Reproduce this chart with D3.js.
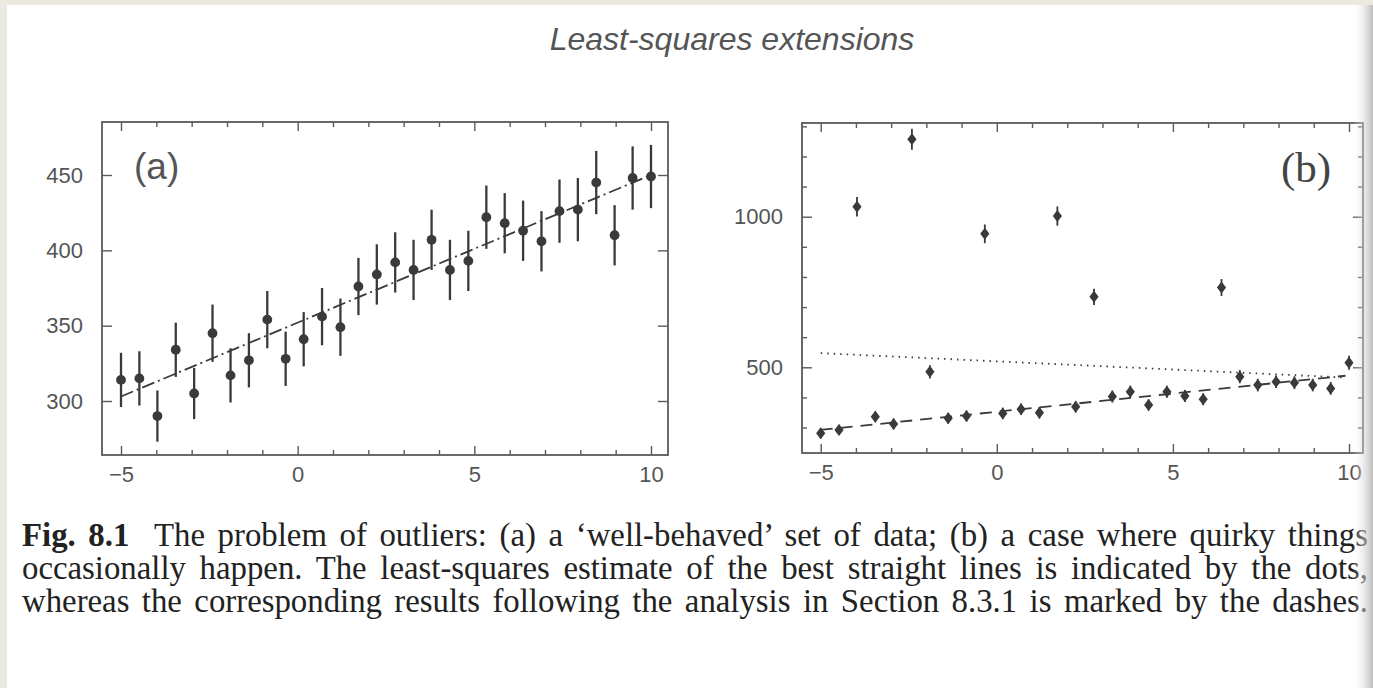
<!DOCTYPE html>
<html>
<head>
<meta charset="utf-8">
<style>
  body { margin: 0; background: #ece9df; }
  svg { display: block; }
</style>
</head>
<body>
<div class="start"></div>
<script src="https://cdn.jsdelivr.net/npm/d3@7/dist/d3.min.js"></script>
<script>
// x positions of the 30 measurements (same for both panels)
var xs = [-5, -4.48, -3.97, -3.45, -2.93, -2.41, -1.90, -1.38, -0.86, -0.34,
          0.17, 0.69, 1.21, 1.72, 2.24, 2.76, 3.28, 3.79, 4.31, 4.83,
          5.34, 5.86, 6.38, 6.90, 7.41, 7.93, 8.45, 8.97, 9.48, 10];

// panel (a): well-behaved data with error bars
var seriesA = [314, 315, 290, 334, 305, 345, 317, 327, 354, 328,
               341, 356, 349, 376, 384, 392, 387, 407, 387, 393,
               422, 418, 413, 406, 426, 427, 445, 410, 448, 449];
var errA = [18, 18, 17, 18, 17, 19, 18, 18, 19, 18,
            18, 19, 19, 19, 20, 20, 20, 20, 20, 20,
            21, 20, 20, 20, 21, 21, 21, 20, 21, 21];

// panel (b): data with outliers
var seriesB = [281, 292, 1033, 336, 312, 1257, 485, 331, 338, 943,
               347, 361, 349, 1002, 369, 734, 403, 419, 375, 419,
               405, 394, 765, 469, 441, 452, 449, 441, 430, 515];
var errB = [17, 17, 32, 18, 18, 35, 22, 18, 18, 31,
            19, 19, 19, 32, 19, 27, 20, 20, 19, 20,
            20, 20, 28, 22, 21, 21, 21, 21, 21, 23];

// fitted straight lines (end points)
var fitAx = [-5, 10],   fitAy = [303, 450];
var robustBx = [-5, 9.9], robustBy = [292, 472];
var lsqBx = [-5, 9.9],  lsqBy = [547, 466];

// ticks
var xTicks = [-5, 0, 5, 10];
var xMinor = [-4, -3, -2, -1, 1, 2, 3, 4, 6, 7, 8, 9];
var yTicksA = [300, 350, 400, 450];
var yTicksB = [500, 1000];
var yMinorB = [300, 400, 600, 700, 800, 900, 1100, 1200, 1300];

var ink = '#3a3a3a', frameCol = '#5a5a5a', labelCol = '#555';

var svg = d3.select('.start')
  .append('svg')
  .attr('width', 1373)
  .attr('height', 688);

// page
svg.append('rect').attr('x', 7).attr('y', 5).attr('width', 1366).attr('height', 683).attr('fill', '#fff');

svg.append('text')
  .attr('x', 732).attr('y', 50)
  .attr('text-anchor', 'middle')
  .attr('font-family', 'Liberation Sans, sans-serif')
  .attr('font-style', 'italic')
  .attr('font-size', 32)
  .attr('fill', '#555')
  .text('Least-squares extensions');

function panel(opt) {
  var g = svg.append('g');
  var x = d3.scaleLinear().domain([-5, 10]).range(opt.xr);
  var y = d3.scaleLinear().domain(opt.yd).range(opt.yr);
  var L = opt.frame[0], T = opt.frame[1], R = opt.frame[2], B = opt.frame[3];

  function style(a) {
    a.select('.domain').remove();
    a.selectAll('line').attr('stroke', frameCol).attr('stroke-width', 1.4);
    a.selectAll('text').attr('fill', labelCol)
      .attr('font-family', 'Liberation Sans, Arial, sans-serif').attr('font-size', 22);
  }

  g.append('g').attr('transform', 'translate(0,' + B + ')')
    .call(d3.axisBottom(x).tickValues(xTicks).tickSize(-9).tickPadding(11)).call(style);
  g.append('g').attr('transform', 'translate(0,' + B + ')')
    .call(d3.axisBottom(x).tickValues(xMinor).tickSize(-5).tickFormat('')).call(style);
  g.append('g').attr('transform', 'translate(0,' + T + ')')
    .call(d3.axisTop(x).tickValues(xTicks).tickSize(-9).tickFormat('')).call(style);
  g.append('g').attr('transform', 'translate(0,' + T + ')')
    .call(d3.axisTop(x).tickValues(xMinor).tickSize(-5).tickFormat('')).call(style);

  g.append('g').attr('transform', 'translate(' + L + ',0)')
    .call(d3.axisLeft(y).tickValues(opt.yTicks).tickSize(-10).tickPadding(opt.yPad).tickFormat(d3.format('d'))).call(style);
  g.append('g').attr('transform', 'translate(' + R + ',0)')
    .call(d3.axisRight(y).tickValues(opt.yTicks).tickSize(-10).tickFormat('')).call(style);
  if (opt.yMinor) {
    g.append('g').attr('transform', 'translate(' + L + ',0)')
      .call(d3.axisLeft(y).tickValues(opt.yMinor).tickSize(-5).tickFormat('')).call(style);
    g.append('g').attr('transform', 'translate(' + R + ',0)')
      .call(d3.axisRight(y).tickValues(opt.yMinor).tickSize(-5).tickFormat('')).call(style);
  }

  g.append('rect')
    .attr('x', L).attr('y', T).attr('width', R - L).attr('height', B - T)
    .attr('fill', 'none').attr('stroke', frameCol).attr('stroke-width', 1.8);

  return { g: g, x: x, y: y };
}

// ---- panel (a)
var pa = panel({ xr: [121, 651], yd: [300, 450], yr: [401, 175], frame: [102, 122, 668, 455],
                 yTicks: yTicksA, yPad: 19 });

var lineA = d3.line().x(function(d) { return pa.x(d[0]); }).y(function(d) { return pa.y(d[1]); });
pa.g.append('path')
  .attr('d', lineA(d3.zip(fitAx, fitAy)))
  .attr('fill', 'none').attr('stroke', ink).attr('stroke-width', 1.8)
  .attr('stroke-dasharray', '13,4,2,4');

pa.g.selectAll('.errA').data(seriesA).enter().append('line')
  .attr('x1', function(d, i) { return pa.x(xs[i]); })
  .attr('x2', function(d, i) { return pa.x(xs[i]); })
  .attr('y1', function(d, i) { return pa.y(d - errA[i]); })
  .attr('y2', function(d, i) { return pa.y(d + errA[i]); })
  .attr('stroke', ink).attr('stroke-width', 2.3);

pa.g.selectAll('.ptA').data(seriesA).enter().append('circle')
  .attr('cx', function(d, i) { return pa.x(xs[i]); })
  .attr('cy', function(d) { return pa.y(d); })
  .attr('r', 4.9).attr('fill', ink);

pa.g.append('text').attr('x', 134).attr('y', 179)
  .attr('font-family', 'Liberation Sans, sans-serif').attr('font-size', 37)
  .attr('fill', '#555').text('(a)');

// ---- panel (b)
var pb = panel({ xr: [820.7, 1349], yd: [500, 1000], yr: [367.3, 216.7], frame: [802, 123, 1363, 453],
                 yTicks: yTicksB, yMinor: yMinorB, yPad: 19 });

var lineB = d3.line().x(function(d) { return pb.x(d[0]); }).y(function(d) { return pb.y(d[1]); });
pb.g.append('path')
  .attr('d', lineB(d3.zip(lsqBx, lsqBy)))
  .attr('fill', 'none').attr('stroke', ink).attr('stroke-width', 1.8)
  .attr('stroke-dasharray', '1.5,5');
pb.g.append('path')
  .attr('d', lineB(d3.zip(robustBx, robustBy)))
  .attr('fill', 'none').attr('stroke', ink).attr('stroke-width', 1.8)
  .attr('stroke-dasharray', '12,8');

pb.g.selectAll('.errB').data(seriesB).enter().append('line')
  .attr('x1', function(d, i) { return pb.x(xs[i]); })
  .attr('x2', function(d, i) { return pb.x(xs[i]); })
  .attr('y1', function(d, i) { return pb.y(d - errB[i]); })
  .attr('y2', function(d, i) { return pb.y(d + errB[i]); })
  .attr('stroke', ink).attr('stroke-width', 1.8);

pb.g.selectAll('.ptB').data(seriesB).enter().append('path')
  .attr('transform', function(d, i) { return 'translate(' + pb.x(xs[i]) + ',' + pb.y(d) + ')'; })
  .attr('d', 'M0,-6L4.6,0L0,6L-4.6,0Z')
  .attr('fill', ink);

pb.g.append('text').attr('x', 1281).attr('y', 182)
  .attr('font-family', 'Liberation Serif, serif').attr('font-size', 43)
  .attr('fill', '#444').text('(b)');

// ---- caption (justified lines)
var capLines = [
  [['Fig. 8.1', true], ['  The problem of outliers: (a) a \u2018well-behaved\u2019 set of data; (b) a case where quirky things', false]],
  [['occasionally happen. The least-squares estimate of the best straight lines is indicated by the dots,', false]],
  [['whereas the corresponding results following the analysis in Section 8.3.1 is marked by the dashes.', false]]
];
var capWidth = 1346;
var cap = svg.append('g')
  .attr('font-family', 'Liberation Serif, Times New Roman, serif')
  .attr('font-size', 32.8).attr('fill', '#222');
capLines.forEach(function(parts, k) {
  var t = cap.append('text').attr('x', 22).attr('y', 546 + k * 33).attr('xml:space', 'preserve');
  var spaces = 0;
  parts.forEach(function(p) {
    t.append('tspan').attr('font-weight', p[1] ? 'bold' : 'normal').text(p[0]);
    spaces += (p[0].match(/ /g) || []).length;
  });
  var natural = t.node().getComputedTextLength();
  t.attr('word-spacing', Math.max(0, (capWidth - natural) / spaces));
});

// shadow of the page fold at the right edge
var grad = svg.append('defs').append('linearGradient').attr('id', 'fold');
grad.append('stop').attr('offset', '0').attr('stop-color', '#fff').attr('stop-opacity', 0);
grad.append('stop').attr('offset', '1').attr('stop-color', '#b5b5b5').attr('stop-opacity', 0.9);
svg.append('rect').attr('x', 1352).attr('y', 5).attr('width', 21).attr('height', 683).attr('fill', 'url(#fold)');
</script>
</body>
</html>
